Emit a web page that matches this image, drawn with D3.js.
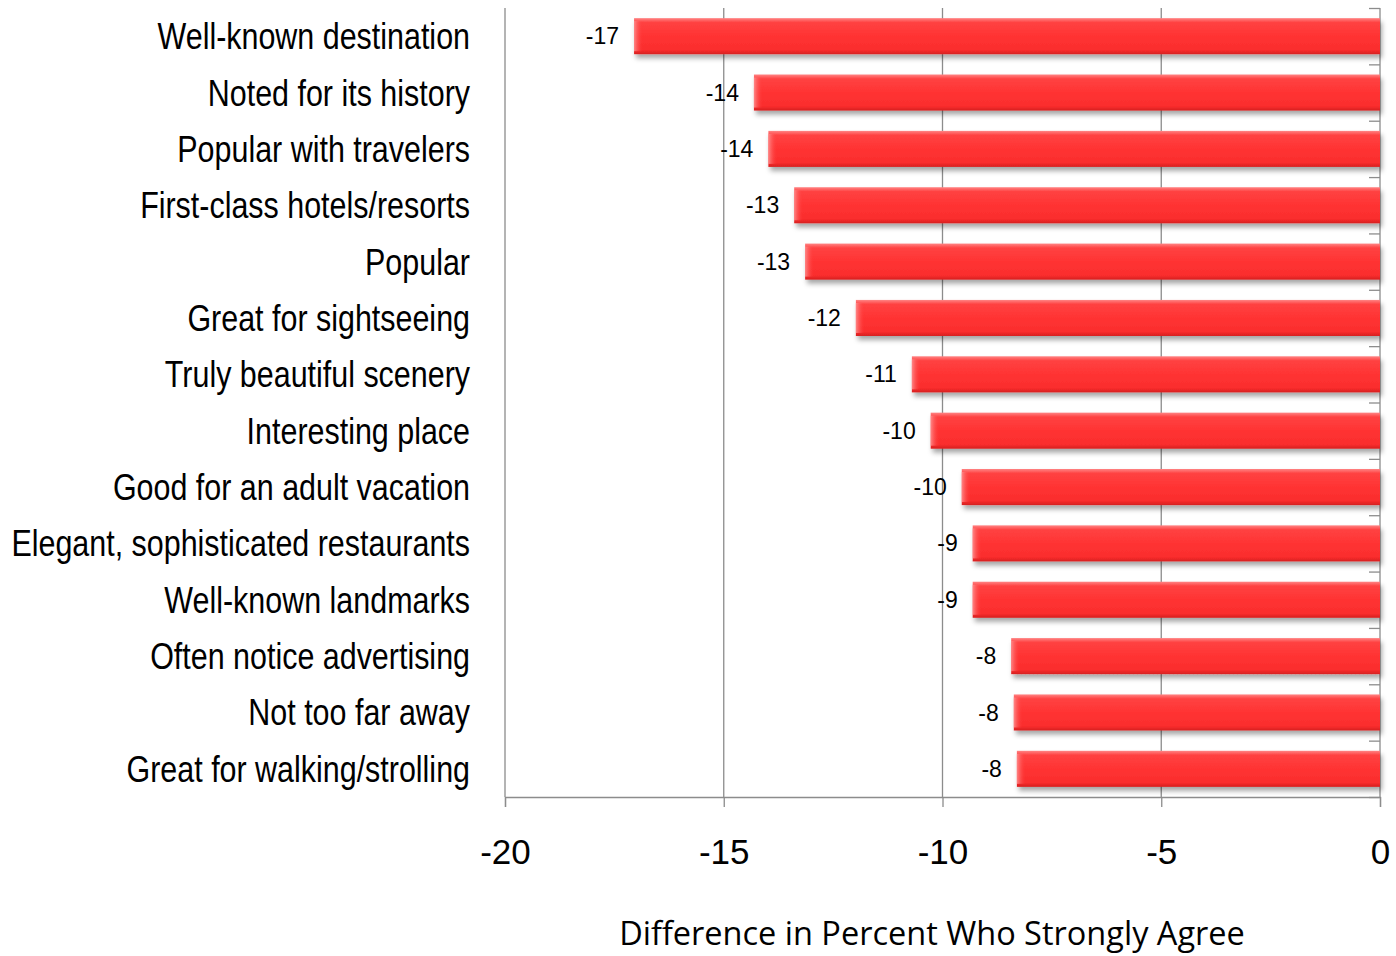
<!DOCTYPE html>
<html>
<head>
<meta charset="utf-8">
<script src="https://cdn.jsdelivr.net/npm/d3@7"></script>
<style>
  body { margin: 0; background: #fff; }
  svg { display: block; }
</style>
</head>
<body>
<svg id="chart" width="1396" height="956"></svg>
<script>
// categories, top to bottom
let categories = [
    "Well-known destination",
    "Noted for its history",
    "Popular with travelers",
    "First-class hotels/resorts",
    "Popular",
    "Great for sightseeing",
    "Truly beautiful scenery",
    "Interesting place",
    "Good for an adult vacation",
    "Elegant, sophisticated restaurants",
    "Well-known landmarks",
    "Often notice advertising",
    "Not too far away",
    "Great for walking/strolling"
];

// difference in percent who strongly agree
let values = [-17.05, -14.31, -13.98, -13.39, -13.14, -11.98, -10.70,
              -10.27, -9.56, -9.31, -9.31, -8.43, -8.37, -8.30];

let xTicks = [-20, -15, -10, -5, 0];
let xTitle = "Difference in Percent Who Strongly Agree";

let margin = { top: 8, left: 505, bottom: 160, right: 16 };

let svg = d3.select("#chart");
let width = +svg.attr("width");
let plotBottom = 797;

let x = d3.scaleLinear()
    .domain([-20, 0])
    .range([margin.left, width - margin.right]);

let y = d3.scaleBand()
    .domain(categories)
    .range([margin.top, plotBottom])
    .paddingInner(0.36)
    .paddingOuter(0.18);

// band boundaries for the tick marks on the zero line
let yEdge = d3.scaleLinear()
    .domain([0, categories.length])
    .range([margin.top, plotBottom]);

let defs = svg.append("defs");

let grad = defs.append("linearGradient")
    .attr("id", "barFill")
    .attr("x1", 0).attr("y1", 0).attr("x2", 0).attr("y2", 1);
grad.append("stop").attr("offset", "0%").attr("stop-color", "#ff8484");
grad.append("stop").attr("offset", "12%").attr("stop-color", "#ff4242");
grad.append("stop").attr("offset", "50%").attr("stop-color", "#ff3333");
grad.append("stop").attr("offset", "88%").attr("stop-color", "#fa2d2d");
grad.append("stop").attr("offset", "100%").attr("stop-color", "#d62020");

let bevel = defs.append("linearGradient")
    .attr("id", "bevel")
    .attr("x1", 0).attr("y1", 0).attr("x2", 1).attr("y2", 0);
bevel.append("stop").attr("offset", "0%").attr("stop-color", "#ff9a9a").attr("stop-opacity", 0.8);
bevel.append("stop").attr("offset", "100%").attr("stop-color", "#ff3333").attr("stop-opacity", 0);

let shadow = defs.append("filter")
    .attr("id", "shadow")
    .attr("x", "-5%").attr("y", "-30%")
    .attr("width", "110%").attr("height", "180%");
shadow.append("feDropShadow")
    .attr("dx", 2).attr("dy", 4)
    .attr("stdDeviation", 2.5)
    .attr("flood-color", "#000")
    .attr("flood-opacity", 0.35);

// gridlines
svg.append("g")
    .selectAll("line")
    .data(xTicks)
    .enter()
    .append("line")
    .attr("x1", d => x(d))
    .attr("x2", d => x(d))
    .attr("y1", margin.top)
    .attr("y2", plotBottom)
    .attr("stroke", "#8c8c8c")
    .attr("stroke-width", 1.3);

// value axis along the bottom
let xAxis = svg.append("g")
    .attr("transform", `translate(0,${plotBottom})`)
    .call(d3.axisBottom(x).tickValues(xTicks).tickSize(10).tickPadding(32).tickFormat(d3.format("d")));
xAxis.select(".domain").attr("stroke", "#8c8c8c").attr("stroke-width", 1.3);
xAxis.selectAll(".tick line").attr("stroke", "#8c8c8c").attr("stroke-width", 1.3);
xAxis.selectAll(".tick text")
    .attr("font-family", "'Liberation Sans', Arial, sans-serif")
    .attr("font-size", 35)
    .attr("fill", "#000")
    .text(d => d < 0 ? "-" + Math.abs(d) : d);

// category tick marks on the zero line
let yAxis = svg.append("g")
    .attr("transform", `translate(${x(0)},0)`)
    .call(d3.axisLeft(yEdge).tickValues(d3.range(categories.length + 1)).tickSize(11).tickFormat(""));
yAxis.select(".domain").remove();
yAxis.selectAll(".tick line").attr("stroke", "#8c8c8c").attr("stroke-width", 1.3);

// bars
let bars = svg.append("g")
    .selectAll("g")
    .data(values)
    .enter()
    .append("g");

bars.append("rect")
    .attr("x", d => x(d))
    .attr("y", (d, i) => y(categories[i]))
    .attr("width", d => x(0) - x(d))
    .attr("height", y.bandwidth())
    .attr("fill", "url(#barFill)")
    .attr("filter", "url(#shadow)");

bars.append("rect")
    .attr("x", d => x(d))
    .attr("y", (d, i) => y(categories[i]) + 3)
    .attr("width", 9)
    .attr("height", y.bandwidth() - 6)
    .attr("fill", "url(#bevel)");

// data labels
bars.append("text")
    .attr("x", d => x(d) - 15)
    .attr("y", (d, i) => y(categories[i]) + y.bandwidth() / 2)
    .attr("dy", "0.35em")
    .attr("text-anchor", "end")
    .attr("font-family", "'Liberation Sans', Arial, sans-serif")
    .attr("font-size", 23)
    .text(d => "-" + Math.abs(Math.round(d)));

// category labels, squeezed to look like a narrow face
svg.append("g")
    .selectAll("text")
    .data(categories)
    .enter()
    .append("text")
    .attr("transform", d => `translate(470,${y(d) + y.bandwidth() / 2}) scale(0.823,1)`)
    .attr("dy", "0.35em")
    .attr("text-anchor", "end")
    .attr("font-family", "'Liberation Sans', Arial, sans-serif")
    .attr("font-size", 37)
    .attr("fill", "#000")
    .text(d => d);

// axis title
svg.append("text")
    .attr("x", 932)
    .attr("y", 945)
    .attr("text-anchor", "middle")
    .attr("font-family", "'Open Sans', Lato, sans-serif")
    .attr("font-size", 32.5)
    .attr("fill", "#000")
    .text(xTitle);
</script>
</body>
</html>
